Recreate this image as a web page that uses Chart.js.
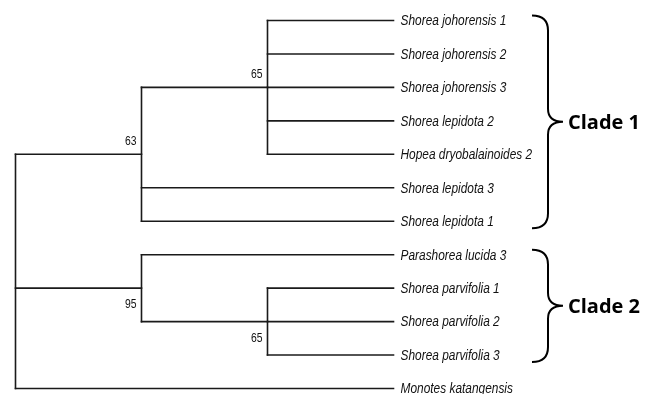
<!DOCTYPE html>
<html lang="en">
<head>
<meta charset="UTF-8">
<title>Dipterocarp tree</title>
<script src="https://cdn.jsdelivr.net/npm/chart.js"></script>
<style>
  body { margin: 0; background: #fff; }
  #wrap { width: 653px; height: 394px; }
</style>
</head>
<body>
<div id="wrap"><canvas id="treeChart"></canvas></div>
<script>
const taxa = [
  'Shorea johorensis 1', 'Shorea johorensis 2', 'Shorea johorensis 3',
  'Shorea lepidota 2', 'Hopea dryobalainoides 2', 'Shorea lepidota 3',
  'Shorea lepidota 1', 'Parashorea lucida 3', 'Shorea parvifolia 1',
  'Shorea parvifolia 2', 'Shorea parvifolia 3', 'Monotes katangensis'
];
const leafDepth = 3;

// internal nodes: children are taxon indexes or other node ids
const nodeIds = ['root', 'n63', 'n65a', 'n95', 'n65b'];
const nodeDepth = [0, 1, 2, 1, 2];
const nodeChildren = [['n63', 'n95', 11], ['n65a', 5, 6], [0, 1, 2, 3, 4], [7, 'n65b'], [8, 9, 10]];
const bootstrap = [null, 63, 65, 95, 65];

const cladeNames = ['Clade 1', 'Clade 2'];
const cladeFirst = [0, 7];
const cladeLast = [6, 10];

function posY(c) {
  if (typeof c === 'number') return c;
  const kids = nodeChildren[nodeIds.indexOf(c)];
  return (posY(kids[0]) + posY(kids[kids.length - 1])) / 2;
}
function posX(c) {
  return typeof c === 'number' ? leafDepth : nodeDepth[nodeIds.indexOf(c)];
}

// one dataset per branch segment
const lineColor = '#1a1a1a';
const datasets = [];
function seg(a, b) {
  datasets.push({
    data: [a, b], showLine: true, borderColor: lineColor, borderWidth: 1.6,
    pointRadius: 0, borderCapStyle: 'square', clip: false
  });
}
nodeIds.forEach((id, i) => {
  const kids = nodeChildren[i];
  const d = nodeDepth[i];
  seg({ x: d, y: posY(kids[0]) }, { x: d, y: posY(kids[kids.length - 1]) });
  kids.forEach(k => seg({ x: d, y: posY(k) }, { x: posX(k), y: posY(k) }));
});

// narrow text: squeeze a regular face horizontally
function narrowText(ctx, text, x, y, sx) {
  ctx.save();
  ctx.translate(x, y);
  ctx.scale(sx, 1);
  ctx.fillText(text, 0, 0);
  ctx.restore();
}

const treeText = {
  id: 'treeText',
  afterDatasetsDraw(chart, args, opts) {
    const ctx = chart.ctx;
    const xs = chart.scales.x, ys = chart.scales.y;
    ctx.save();

    // taxon labels
    ctx.fillStyle = '#111';
    ctx.font = "italic 14px 'Liberation Sans', Arial, sans-serif";
    ctx.textAlign = 'left';
    ctx.textBaseline = 'middle';
    taxa.forEach((t, i) => {
      narrowText(ctx, t, xs.getPixelForValue(leafDepth) + 7, ys.getPixelForValue(i) + 1, 0.85);
    });

    // bootstrap values
    ctx.font = "13px 'Liberation Sans', Arial, sans-serif";
    ctx.textAlign = 'right';
    nodeIds.forEach((id, i) => {
      if (bootstrap[i] == null) return;
      const below = opts.below.includes(id);
      const px = xs.getPixelForValue(nodeDepth[i]) - 5;
      const py = ys.getPixelForValue(posY(id));
      ctx.textBaseline = below ? 'top' : 'bottom';
      narrowText(ctx, String(bootstrap[i]), px, below ? py + 10 : py - 6, 0.8);
    });

    // clade braces
    ctx.strokeStyle = '#000';
    ctx.lineWidth = 2;
    ctx.fillStyle = '#000';
    ctx.font = "bold 20px 'Open Sans', sans-serif";
    ctx.textAlign = 'left';
    ctx.textBaseline = 'middle';
    cladeNames.forEach((name, i) => {
      const top = ys.getPixelForValue(cladeFirst[i]) - 5;
      const bot = ys.getPixelForValue(cladeLast[i]) + 7;
      const mid = (top + bot) / 2;
      const x0 = opts.braceX, x1 = x0 + 16, x2 = x0 + 31, r = 15, r2 = 13;
      ctx.beginPath();
      ctx.moveTo(x0, top);
      ctx.quadraticCurveTo(x1, top, x1, top + r);
      ctx.lineTo(x1, mid - r2);
      ctx.quadraticCurveTo(x1, mid, x2, mid);
      ctx.quadraticCurveTo(x1, mid, x1, mid + r2);
      ctx.lineTo(x1, bot - r);
      ctx.quadraticCurveTo(x1, bot, x0, bot);
      ctx.stroke();
      ctx.fillText(name, x2 + 5, mid + 1);
    });
    ctx.restore();
  }
};

new Chart(document.getElementById('treeChart'), {
  type: 'scatter',
  data: { datasets: datasets },
  options: {
    responsive: true,
    maintainAspectRatio: false,
    animation: false,
    layout: { padding: { left: 15.5, right: 259.5, top: 20.5, bottom: 5.5 } },
    scales: {
      x: { display: false, min: 0, max: leafDepth },
      y: { display: false, min: 0, max: taxa.length - 1, reverse: true }
    },
    plugins: {
      legend: { display: false },
      tooltip: { enabled: false },
      treeText: { below: ['n95', 'n65b'], braceX: 532 }
    }
  },
  plugins: [treeText]
});
</script>
</body>
</html>
